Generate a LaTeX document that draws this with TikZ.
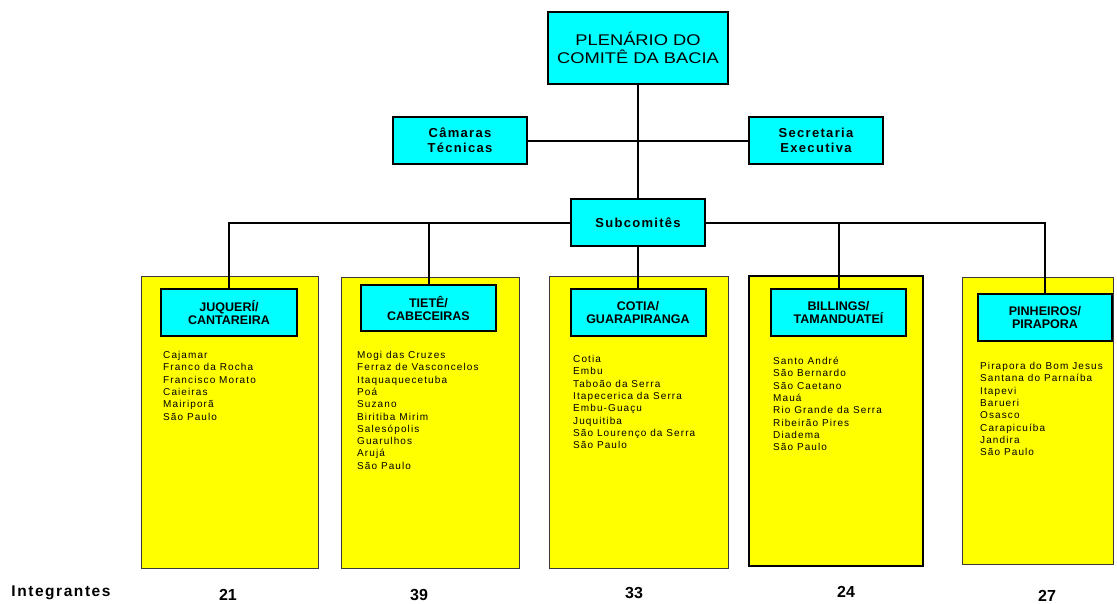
\documentclass[tikz,border=0pt]{standalone}
\usepackage{fontspec}
\setmainfont{Liberation Sans}
\newfontfamily\listfont[LetterSpace=11]{Liberation Sans}
\newfontfamily\spacedfont[LetterSpace=10]{Liberation Sans Bold}
\newfontfamily\labelfont[LetterSpace=10]{Liberation Sans Bold}
\newfontfamily\widefont[FakeStretch=1.18]{Liberation Sans}
\definecolor{boxcyan}{HTML}{00FFFF}
\definecolor{boxyellow}{HTML}{FFFF00}
\definecolor{edgegray}{HTML}{3A3A3A}

\tikzset{
  cyanbox/.style={draw=black, line width=2pt, fill=boxcyan, inner sep=0pt, align=center},
  yellowbox/.style={draw=edgegray, line width=1pt, fill=boxyellow, inner sep=0pt},
  conn/.style={draw=black, line width=2pt},
  topfont/.style={font=\widefont\fontsize{15.5}{18}\selectfont},
  midfont/.style={font=\spacedfont\fontsize{13}{15}\selectfont},
  subfont/.style={font=\bfseries\fontsize{12.5}{13}\selectfont},
  cityfont/.style={font=\listfont\fontsize{10}{12.3}\selectfont, anchor=base west, inner sep=0pt},
  countfont/.style={font=\bfseries\fontsize{16}{16}\selectfont, inner sep=0pt},
}

\begin{document}
\begin{tikzpicture}[x=1pt, y=-1pt]
\useasboundingbox (0,0) rectangle (1117,603);
\fill[white] (0,0) rectangle (1117,603);

% sub-committee panels
\node[yellowbox, minimum width=177pt, minimum height=292pt] (y1) at (229.5,422) {};
\node[yellowbox, minimum width=178pt, minimum height=291pt] (y2) at (430,422.5) {};
\node[yellowbox, minimum width=179pt, minimum height=292pt] (y3) at (638.5,422) {};
\node[yellowbox, draw=black, line width=2pt, minimum width=174pt, minimum height=290pt] (y4) at (836,421) {};
\node[yellowbox, minimum width=151pt, minimum height=287pt] (y5) at (1037.5,420.5) {};

% upper hierarchy
\node[cyanbox, topfont, minimum width=180pt, minimum height=72pt] (plen) at (638,48) {PLENÁRIO DO\\COMITÊ DA BACIA};
\node[cyanbox, midfont, minimum width=134pt, minimum height=47pt] (cam) at (460,140.5) {Câmaras\\Técnicas};
\node[cyanbox, midfont, minimum width=134pt, minimum height=47pt] (sec) at (816,140.5) {Secretaria\\Executiva};
\node[cyanbox, midfont, minimum width=134pt, minimum height=47pt] (sub) at (638,222.5) {Subcomitês};

% sub-committee headers
\node[cyanbox, subfont, minimum width=136pt, minimum height=47pt] (c1) at (229,312.5) {JUQUERÍ/\\CANTAREIRA};
\node[cyanbox, subfont, minimum width=135pt, minimum height=46pt] (c2) at (428.5,308) {TIETÊ/\\CABECEIRAS};
\node[cyanbox, subfont, minimum width=135pt, minimum height=47pt] (c3) at (638,312.5) {COTIA/\\GUARAPIRANGA};
\node[cyanbox, subfont, minimum width=135pt, minimum height=47pt] (c4) at (838.5,312.5) {BILLINGS/\\TAMANDUATEÍ};
\node[cyanbox, subfont, minimum width=134pt, minimum height=47pt] (c5) at (1045,317.5) {PINHEIROS/\\PIRAPORA};

% connectors
\draw[conn] (plen.south) -- (sub.north);
\draw[conn] (cam.east) -- (sec.west);
\draw[conn] (sub.west) -| (c1.north);
\draw[conn] (sub.east) -| (c5.north);
\draw[conn] (sub.south) -- (c3.north);
\draw[conn] (c2.north) -- (c2.north |- sub.west);
\draw[conn] (c4.north) -- (c4.north |- sub.east);

% member municipalities
\foreach \t [count=\i] in {Cajamar,Franco da Rocha,Francisco Morato,Caieiras,Mairiporã,São Paulo}
  \node[cityfont] (la\i) at (163,358.5+12.3*\i-12.3) {\t};
\foreach \t [count=\i] in {Mogi das Cruzes,Ferraz de Vasconcelos,Itaquaquecetuba,Poá,Suzano,Biritiba Mirim,Salesópolis,Guarulhos,Arujá,São Paulo}
  \node[cityfont] (lb\i) at (357,358.5+12.3*\i-12.3) {\t};
\foreach \t [count=\i] in {Cotia,Embu,Taboão da Serra,Itapecerica da Serra,Embu-Guaçu,Juquitiba,São Lourenço da Serra,São Paulo}
  \node[cityfont] (lc\i) at (573,362.5+12.3*\i-12.3) {\t};
\foreach \t [count=\i] in {Santo André,São Bernardo,São Caetano,Mauá,Rio Grande da Serra,Ribeirão Pires,Diadema,São Paulo}
  \node[cityfont] (ld\i) at (773,364.5+12.3*\i-12.3) {\t};
\foreach \t [count=\i] in {Pirapora do Bom Jesus,Santana do Parnaíba,Itapevi,Barueri,Osasco,Carapicuíba,Jandira,São Paulo}
  \node[cityfont] (le\i) at (980,369.5+12.3*\i-12.3) {\t};

% member counts
\node[font=\labelfont\fontsize{15.5}{15.5}\selectfont, inner sep=0pt] (integ) at (61,593) {Integrantes};
\node[countfont] (n1) at (228,595) {21};
\node[countfont] (n2) at (419,595) {39};
\node[countfont] (n3) at (634,593) {33};
\node[countfont] (n4) at (846,592) {24};
\node[countfont] (n5) at (1047,596) {27};
\end{tikzpicture}
\end{document}
